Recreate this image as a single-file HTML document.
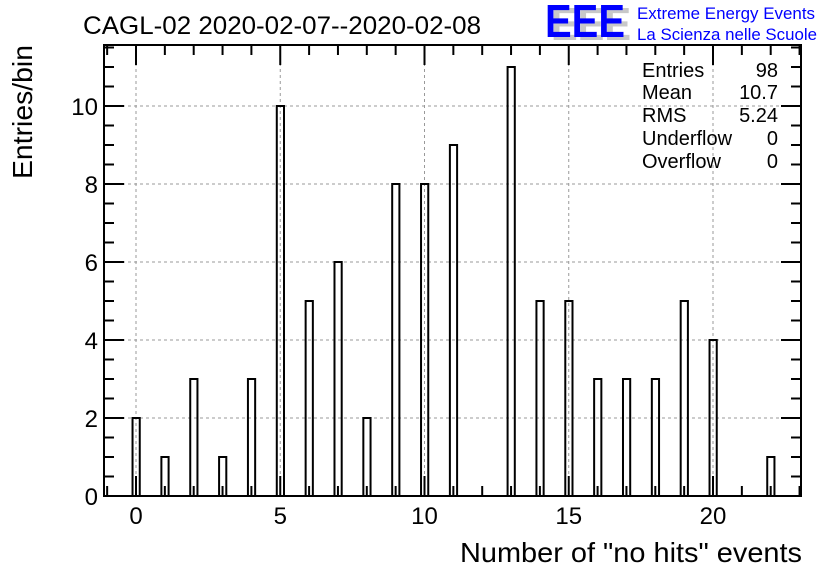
<!DOCTYPE html>
<html><head><meta charset="utf-8">
<style>
html,body{margin:0;padding:0;background:#fff;}
svg{display:block;font-family:"Liberation Sans",Arial,sans-serif;}
</style></head>
<body>
<svg id="chart" width="836" height="572" viewBox="0 0 836 572" xmlns="http://www.w3.org/2000/svg">
  <text x="83" y="34" font-size="25" fill="#000" textLength="398" lengthAdjust="spacingAndGlyphs">CAGL-02 2020-02-07--2020-02-08</text>
  <g>
    <text x="551" y="40" font-size="46" font-weight="bold" fill="#c8c8c8" textLength="80" lengthAdjust="spacingAndGlyphs">EEE</text>
    <text x="545" y="37" font-size="46" font-weight="bold" fill="#0000ff" textLength="80" lengthAdjust="spacingAndGlyphs">EEE</text>
    <text x="637" y="19" font-size="17" fill="#0000ff" textLength="178" lengthAdjust="spacingAndGlyphs">Extreme Energy Events</text>
    <text x="637" y="40" font-size="17" fill="#0000ff" textLength="180" lengthAdjust="spacingAndGlyphs">La Scienza nelle Scuole</text>
  </g>
  <g id="grid"></g>
  <g id="bars"></g>
  <g id="axes"></g>
  <g font-size="20" fill="#000">
    <text x="642" y="77">Entries</text><text x="778" y="77" text-anchor="end">98</text>
    <text x="642" y="99">Mean</text><text x="778" y="99" text-anchor="end">10.7</text>
    <text x="642" y="122">RMS</text><text x="778" y="122" text-anchor="end">5.24</text>
    <text x="642" y="145">Underflow</text><text x="778" y="145" text-anchor="end">0</text>
    <text x="642" y="168">Overflow</text><text x="778" y="168" text-anchor="end">0</text>
  </g>
  <text transform="translate(32,179) rotate(-90)" font-size="28" fill="#000" textLength="134" lengthAdjust="spacingAndGlyphs">Entries/bin</text>
  <text x="460" y="562" font-size="28" fill="#000" textLength="342" lengthAdjust="spacingAndGlyphs">Number of "no hits" events</text>
</svg>
<script>
const categories = [0,1,2,3,4,5,6,7,8,9,10,11,13,14,15,16,17,18,19,20,22];
const counts = [2,1,3,1,3,10,5,6,2,8,8,9,11,5,5,3,3,3,5,4,1];
const xTickLabels = ["0","5","10","15","20"];
const yTickLabels = ["0","2","4","6","8","10"];

const NS="http://www.w3.org/2000/svg";
const L=104,R=801,T=45,B=496;
function xs(v){return 136+v*(713-136)/20;}
function ys(v){return 496-v*39;}
const xMin=(L-136)/((713-136)/20), xMax=(R-136)/((713-136)/20), yMax=(B-T)/39;
function mk(tag,attrs,parent){const e=document.createElementNS(NS,tag);for(const k in attrs)e.setAttribute(k,attrs[k]);parent.appendChild(e);return e;}
const grid=document.getElementById('grid'),bars=document.getElementById('bars'),axes=document.getElementById('axes');

xTickLabels.forEach(t=>{const x=xs(+t);
  const g=mk('line',{x1:x,x2:x,y1:T,y2:B,stroke:'#999','stroke-dasharray':'3,3','stroke-width':1},grid);
  
  
});
yTickLabels.forEach(t=>{const y=ys(+t);
  const g=mk('line',{x1:L,x2:R,y1:y,y2:y,stroke:'#999','stroke-dasharray':'3,3','stroke-width':1},grid);
  
  
});

categories.forEach((c,i)=>{
  const x0=xs(c-0.12),x1=xs(c+0.13),y=ys(counts[i]);
  const r=mk('rect',{x:x0,y:y,width:x1-x0,height:B-y,fill:'none',stroke:'#000','stroke-width':2},bars);
  
  
});

const frame=mk('rect',{x:L,y:T,width:R-L,height:B-T,fill:'none',stroke:'#000','stroke-width':2},axes);



for(let v=Math.ceil(xMin);v<=xMax;v++){
  const x=xs(v),len=(v%5===0)?20:10;
  mk('line',{x1:x,x2:x,y1:B,y2:B-len,stroke:'#000','stroke-width':2},axes);
  mk('line',{x1:x,x2:x,y1:T,y2:T+len,stroke:'#000','stroke-width':2},axes);
}
for(let k=0;k*0.5<=yMax;k++){
  const v=k*0.5,y=ys(v),len=(k%4===0)?20:10;
  mk('line',{x1:L,x2:L+len,y1:y,y2:y,stroke:'#000','stroke-width':2},axes);
  mk('line',{x1:R,x2:R-len,y1:y,y2:y,stroke:'#000','stroke-width':2},axes);
}
xTickLabels.forEach(t=>{
  const e=mk('text',{x:xs(+t),y:524,'text-anchor':'middle','font-size':24,fill:'#000'},axes);
  e.textContent=t;
  
  
});
yTickLabels.forEach(t=>{
  const e=mk('text',{x:98,y:ys(+t)+9,'text-anchor':'end','font-size':24,fill:'#000'},axes);
  e.textContent=t;
  
  
});
</script>
</body></html>
